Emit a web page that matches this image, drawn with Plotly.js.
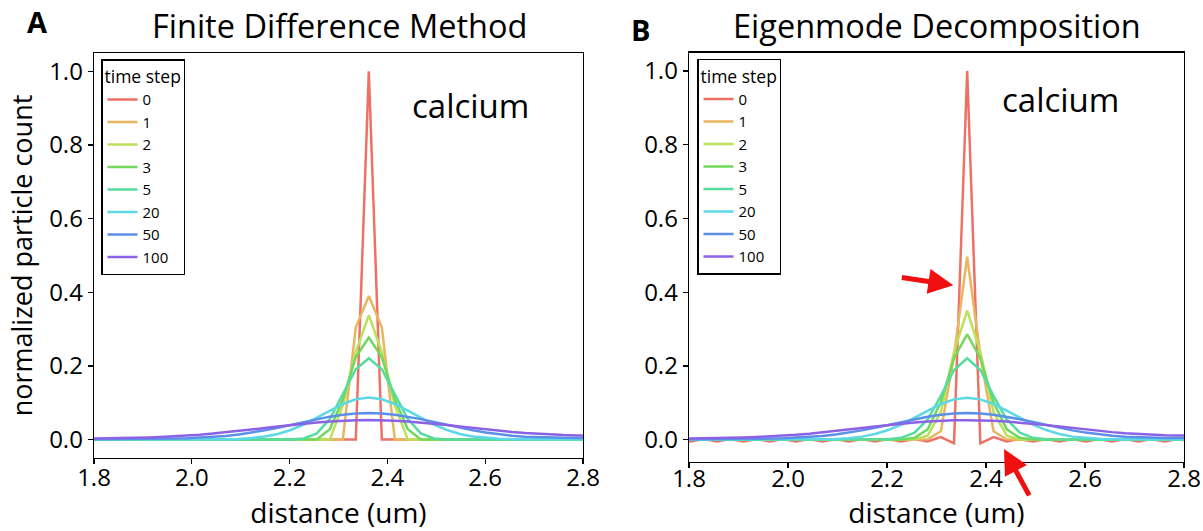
<!DOCTYPE html>
<html>
<head>
<meta charset="utf-8">
<script src="https://cdn.plot.ly/plotly-3.0.1.min.js"></script>
<style>html,body{margin:0;padding:0;background:#fff}#chart{width:1203px;height:531px}</style>
</head>
<body>
<div id="chart"></div>
<script>
// ---- data ----
const timeSteps = ['0', '1', '2', '3', '5', '20', '50', '100'];
const stepColors = ['#ee7166', '#e9b560', '#bde05c', '#72d85c', '#55dc9e', '#5cd8e6', '#5b8fe8', '#8b62e6'];

const xTickVals = [1.8, 2.0, 2.2, 2.4, 2.6, 2.8];
const xTickText = ['1.8', '2.0', '2.2', '2.4', '2.6', '2.8'];
const yTickVals = [0, 0.2, 0.4, 0.6, 0.8, 1.0];
const yTickText = ['0.0', '0.2', '0.4', '0.6', '0.8', '1.0'];

// grid nodes around the release site (um)
const xFull = [1.7768, 1.8034, 1.8300, 1.8566, 1.8832, 1.9098, 1.9364, 1.9630, 1.9896, 2.0162,
  2.0428, 2.0694, 2.0960, 2.1226, 2.1492, 2.1758, 2.2024, 2.2290, 2.2556, 2.2822,
  2.3088, 2.3354, 2.3620, 2.3886, 2.4152, 2.4418, 2.4684, 2.4950, 2.5216, 2.5482,
  2.5748, 2.6014, 2.6280, 2.6546, 2.6812, 2.7078, 2.7344, 2.7610, 2.7876, 2.8142, 2.8408];
const xNear = [1.7768, 2.2024, 2.2290, 2.2556, 2.2822, 2.3088, 2.3354, 2.3620, 2.3886, 2.4152,
  2.4418, 2.4684, 2.4950, 2.5216, 2.8408];

// Finite difference method (panel A), early steps on xNear
const fdStep0 = [0, 0, 0, 0, 0, 0, 0, 1.0, 0, 0, 0, 0, 0, 0, 0];
const fdStep1 = [0, 0, 0, 0, 0, 0, 0.305, 0.39, 0.305, 0, 0, 0, 0, 0, 0];
const fdStep2 = [0, 0, 0, 0, 0, 0.093, 0.238, 0.338, 0.238, 0.093, 0, 0, 0, 0, 0];
const fdStep3 = [0, 0, 0, 0, 0.028, 0.109, 0.224, 0.277, 0.224, 0.109, 0.028, 0, 0, 0, 0];
const fdStep5 = [0, 0, 0.003, 0.017, 0.056, 0.123, 0.191, 0.221, 0.191, 0.123, 0.056, 0.017, 0.003, 0, 0];

// Eigenmode decomposition (panel B), early steps
const emStep0 = [0.002, -0.005, 0.002, -0.005, 0.002, -0.005, 0.002, -0.005, 0.002, -0.005,
  0.002, -0.005, 0.002, -0.005, 0.002, -0.005, 0.002, -0.005, 0.002, -0.005,
  0.007, -0.010, 1.0, -0.010, 0.007, -0.005, 0.002, -0.005, 0.002, -0.005,
  0.002, -0.005, 0.002, -0.005, 0.002, -0.005, 0.002, -0.005, 0.002, -0.005, 0.002];
const emStep1 = [0, 0, 0, 0, 0.001, 0.023, 0.229, 0.496, 0.229, 0.023, 0.001, 0, 0, 0, 0];
const emStep2 = [0, 0, 0, 0.001, 0.011, 0.075, 0.238, 0.350, 0.238, 0.075, 0.011, 0.001, 0, 0, 0];
const emStep3 = [0, 0, 0.0005, 0.005, 0.028, 0.102, 0.221, 0.286, 0.221, 0.102, 0.028, 0.005, 0.0005, 0, 0];
const emStep5 = [0, 0.001, 0.005, 0.019, 0.055, 0.119, 0.189, 0.221, 0.189, 0.119, 0.055, 0.019, 0.005, 0.001, 0];

// late steps (both panels), on xFull
const step20 = [0.0001, 0.0001, 0.0001, 0.0001, 0.0001, 0.0001, 0.0001, 0.0001, 0.0001, 0.0001,
  0.0003, 0.0008, 0.0019, 0.0041, 0.0083, 0.0153, 0.0261, 0.0410, 0.0592, 0.0789,
  0.0968, 0.1094, 0.114, 0.1094, 0.0968, 0.0789, 0.0592, 0.0410, 0.0261, 0.0153,
  0.0083, 0.0043, 0.0023, 0.0014, 0.0011, 0.0010, 0.0010, 0.0010, 0.0010, 0.0010, 0.0010];
const step50 = [0.0006, 0.0007, 0.0008, 0.0010, 0.0013, 0.0017, 0.0022, 0.0029, 0.0038, 0.0052,
  0.0072, 0.0100, 0.0140, 0.0192, 0.0253, 0.0324, 0.0400, 0.0479, 0.0556, 0.0623,
  0.0676, 0.0710, 0.0722, 0.0710, 0.0676, 0.0623, 0.0556, 0.0479, 0.0400, 0.0324,
  0.0253, 0.0192, 0.0142, 0.0104, 0.0078, 0.0062, 0.0053, 0.0048, 0.0046, 0.0045, 0.0045];
const step100 = [0.0026, 0.0029, 0.0033, 0.0039, 0.0047, 0.0058, 0.0072, 0.0089, 0.0109, 0.0134,
  0.0163, 0.0197, 0.0234, 0.0273, 0.0314, 0.0355, 0.0395, 0.0432, 0.0465, 0.0492,
  0.0513, 0.0526, 0.053, 0.0526, 0.0513, 0.0492, 0.0465, 0.0432, 0.0395, 0.0355,
  0.0314, 0.0273, 0.0238, 0.0205, 0.0177, 0.0153, 0.0135, 0.0122, 0.0114, 0.0109, 0.0107];

// ---- build ----
const FONT = '"Open Sans", "DejaVu Sans", sans-serif';
const W = 1203, H = 531;
const px = v => v / W;
const py = v => 1 - v / H;

const panelA = [[xNear, fdStep0], [xNear, fdStep1], [xNear, fdStep2], [xNear, fdStep3], [xNear, fdStep5],
  [xFull, step20], [xFull, step50], [xFull, step100]];
const panelB = [[xFull, emStep0], [xNear, emStep1], [xNear, emStep2], [xNear, emStep3], [xNear, emStep5],
  [xFull, step20], [xFull, step50], [xFull, step100]];

const traces = [];
panelA.forEach((d, i) => traces.push({
  type: 'scatter', mode: 'lines', x: d[0], y: d[1], name: timeSteps[i],
  line: {color: stepColors[i], width: 2.5}, xaxis: 'x', yaxis: 'y', legend: 'legend'
}));
panelB.forEach((d, i) => traces.push({
  type: 'scatter', mode: 'lines', x: d[0], y: d[1], name: timeSteps[i],
  line: {color: stepColors[i], width: 2.5}, xaxis: 'x2', yaxis: 'y2', legend: 'legend2'
}));

function xAxis(domain, anchor, labelShift, titleGap) {
  return {
    domain: domain, anchor: anchor, range: [1.8, 2.8], tickmode: 'array',
    tickvals: xTickVals, ticktext: xTickText, ticks: 'outside', ticklen: 5, tickwidth: 1.3,
    tickcolor: '#000', showline: true, linecolor: '#000', linewidth: 1.3, mirror: true,
    showgrid: false, zeroline: false, tickfont: {family: FONT, size: 24, color: '#000'},
    ticklabelstandoff: labelShift,
    title: {text: 'distance (um)', font: {family: FONT, size: 28, color: '#000'}, standoff: titleGap}
  };
}
function yAxis(domain, anchor, range, title) {
  const a = {
    domain: domain, anchor: anchor, range: range, tickmode: 'array',
    tickvals: yTickVals, ticktext: yTickText, ticks: 'outside', ticklen: 5, tickwidth: 1.3,
    tickcolor: '#000', showline: true, linecolor: '#000', linewidth: 1.3, mirror: true,
    showgrid: false, zeroline: false, tickfont: {family: FONT, size: 24, color: '#000'}
  };
  if (title) a.title = {text: title, font: {family: FONT, size: 27, color: '#000'}, standoff: 8};
  return a;
}
function legendBox(xp, yp) {
  return {
    x: px(xp), y: py(yp), xanchor: 'left', yanchor: 'top', bgcolor: '#fff',
    bordercolor: '#000', borderwidth: 1.5, font: {family: FONT, size: 15, color: '#000'},
    title: {text: 'time step', font: {family: FONT, size: 17.5, color: '#000'}},
    tracegroupgap: 0, itemwidth: 30
  };
}
function label(text, xp, yp, size, bold) {
  return {
    text: text, xref: 'paper', yref: 'paper', x: px(xp), y: py(yp), xanchor: 'center', yanchor: 'middle',
    showarrow: false, font: {family: FONT, size: size, color: '#000', weight: bold ? 700 : 400}
  };
}

const layout = {
  width: W, height: H, margin: {l: 0, r: 0, t: 0, b: 0},
  paper_bgcolor: '#fff', plot_bgcolor: '#fff', font: {family: FONT, color: '#000'},
  xaxis: xAxis([px(94), px(583)], 'y', -7, 11),
  yaxis: yAxis([py(458), py(53)], 'x', [-0.05, 1.05], 'normalized particle count'),
  xaxis2: xAxis([px(689), px(1184)], 'y2', -10, 12),
  yaxis2: yAxis([py(462), py(52.5)], 'x2', [-0.0605, 1.05], null),
  legend: legendBox(101, 59),
  legend2: legendBox(697, 58.5),
  annotations: [
    label('A', 37, 22, 29, true),
    label('B', 640, 29, 29, true),
    label('Finite Difference Method', 339, 26, 32.5, false),
    label('Eigenmode Decomposition', 937, 26, 32.5, false),
    label('calcium', 470, 105, 33, false),
    label('calcium', 1060, 100, 33, false),
    {text: '', xref: 'x2', yref: 'y2', x: 2.334, y: 0.419, ax: -53, ay: -8, axref: 'pixel', ayref: 'pixel',
      showarrow: true, arrowhead: 2, arrowsize: 1, arrowwidth: 5, arrowcolor: '#f01010'},
    {text: '', xref: 'x2', yref: 'y2', x: 2.4364, y: -0.025, ax: 26, ay: 48, axref: 'pixel', ayref: 'pixel',
      showarrow: true, arrowhead: 2, arrowsize: 1, arrowwidth: 5, arrowcolor: '#f01010'}
  ]
};

Plotly.newPlot('chart', traces, layout, {staticPlot: true, displayModeBar: false});
</script>
</body>
</html>
